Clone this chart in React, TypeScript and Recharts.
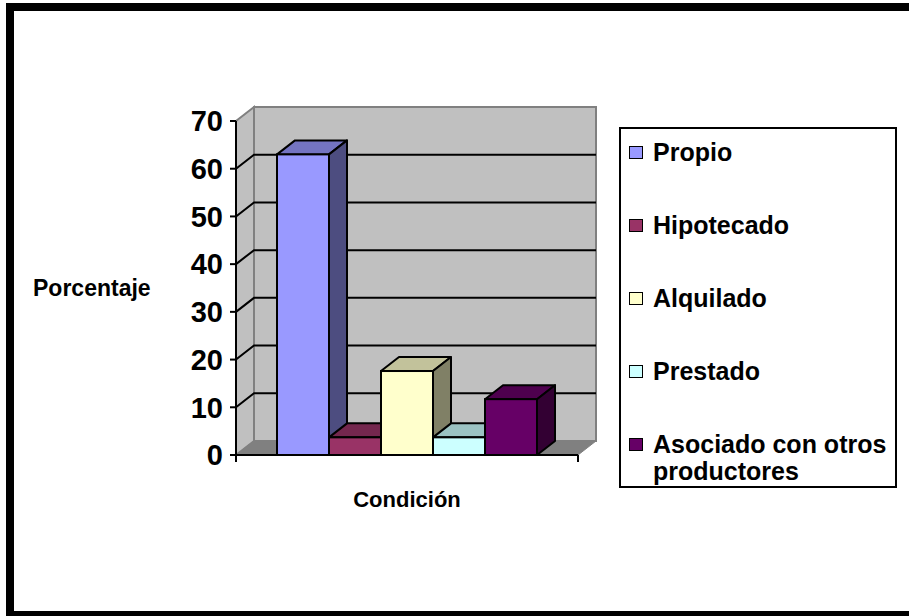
import React from 'react';
import { BarChart, Bar, XAxis, YAxis, Legend, ReferenceArea } from 'recharts';

// ---- data ----
const categories = ['Condición'];
const seriesNames = ['Propio', 'Hipotecado', 'Alquilado', 'Prestado', 'Asociado con otros productores'];
const seriesValues = [63, 3.7, 17.6, 3.7, 11.7];
const seriesColors = ['#9999FF', '#993366', '#FFFFCC', '#CCFFFF', '#660066'];
const yTicks = [0, 10, 20, 30, 40, 50, 60, 70];

const data = categories.map((c) => {
  const row: Record<string, string | number> = { name: c };
  seriesNames.forEach((_, i) => {
    row['s' + i] = seriesValues[i];
  });
  return row;
});

// ---- styling ----
const FONT = '"Liberation Sans", Arial, sans-serif';
const DX = 18;
const DY = 14;
const WALL = '#C0C0C0';
const EDGE = '#808080';
const FLOOR = '#808080';

const shade = (hex: string, f: number) => {
  const n = parseInt(hex.slice(1), 16);
  const r = Math.round(((n >> 16) & 255) * f);
  const g = Math.round(((n >> 8) & 255) * f);
  const b = Math.round((n & 255) * f);
  return `rgb(${r},${g},${b})`;
};

const make3DBar = (color: string) => (props: any) => {
  const { x, y, width, height } = props;
  if (width == null || height == null) return <g />;
  const top = shade(color, 0.76);
  const side = shade(color, 0.5);
  return (
    <g>
      <polygon
        points={`${x},${y} ${x + width},${y} ${x + width + DX},${y - DY} ${x + DX},${y - DY}`}
        fill={top}
        stroke="#000"
        strokeWidth={2}
        strokeLinejoin="round"
      />
      <polygon
        points={`${x + width},${y} ${x + width + DX},${y - DY} ${x + width + DX},${y + height - DY} ${x + width},${y + height}`}
        fill={side}
        stroke="#000"
        strokeWidth={2}
        strokeLinejoin="round"
      />
      <rect x={x} y={y} width={width} height={height} fill={color} stroke="#000" strokeWidth={2} />
    </g>
  );
};

const Walls = (props: any) => {
  const { x, y, width, height } = props;
  const b = y + height;
  return (
    <g>
      <polygon
        points={`${x},${y} ${x + DX},${y - DY} ${x + DX},${b - DY} ${x},${b}`}
        fill={WALL}
        stroke={EDGE}
        strokeWidth={2}
      />
      <rect x={x + DX} y={y - DY} width={width} height={height} fill={WALL} stroke={EDGE} strokeWidth={2} />
      <polygon
        points={`${x},${b} ${x + width},${b} ${x + width + DX},${b - DY} ${x + DX},${b - DY}`}
        fill={FLOOR}
        stroke={EDGE}
        strokeWidth={1}
      />
      <line x1={x} y1={b} x2={x} y2={b + 7} stroke="#000" strokeWidth={2} />
      <line x1={x + width} y1={b} x2={x + width} y2={b + 7} stroke="#000" strokeWidth={2} />
    </g>
  );
};

const GridBand = (props: any) => {
  const { x, y, width } = props;
  return (
    <path
      d={`M${x},${y} L${x + DX},${y - DY} L${x + width + DX},${y - DY}`}
      fill="none"
      stroke="#000"
      strokeWidth={2}
    />
  );
};

const renderLegend = (props: any) => {
  const payload = props.payload || [];
  return (
    <div
      style={{
        width: '100%',
        height: '100%',
        boxSizing: 'border-box',
        border: '2px solid #000',
        background: '#fff',
        paddingTop: 10,
        paddingLeft: 8,
        fontFamily: FONT,
        fontWeight: 'bold',
        fontSize: 25,
        color: '#000',
        textAlign: 'left',
      }}
    >
      {payload.map((e: any, i: number) => (
        <div key={i} style={{ display: 'flex', alignItems: 'flex-start', height: 73, lineHeight: '27px' }}>
          <span
            style={{
              display: 'inline-block',
              width: 12,
              height: 11,
              marginTop: 7,
              marginRight: 10,
              border: '1.5px solid #000',
              background: e.color,
              flex: 'none',
            }}
          />
          <span style={{ whiteSpace: 'normal', width: 245 }}>{e.value}</span>
        </div>
      ))}
    </div>
  );
};

export default function App() {
  const bands = yTicks.slice(1, -1);
  return (
    <div style={{ position: 'absolute', left: 0, top: 0, width: 909, height: 616, overflow: 'hidden', background: '#fff' }}>
      <div
        style={{
          position: 'absolute',
          left: 6,
          top: 3,
          width: 940,
          height: 616,
          border: '8px solid #000',
          boxSizing: 'border-box',
        }}
      />
      <div style={{ position: 'absolute', left: 0, top: 0 }}>
        <BarChart
          width={909}
          height={616}
          data={data}
          margin={{ top: 121, right: 331, left: 0, bottom: 101 }}
          barCategoryGap={41}
          barGap={0}
        >
          <XAxis
            dataKey="name"
            height={60}
            tick={false}
            tickLine={false}
            axisLine={{ stroke: '#000', strokeWidth: 2 }}
            label={{
              value: 'Condición',
              position: 'insideTop',
              offset: 36,
              fontSize: 22,
              fontWeight: 'bold',
              fontFamily: FONT,
              fill: '#000',
            }}
          />
          <YAxis
            width={236}
            domain={[0, 70]}
            ticks={yTicks}
            interval={0}
            tickSize={6}
            tickMargin={7}
            axisLine={{ stroke: '#000', strokeWidth: 2 }}
            tickLine={{ stroke: '#000', strokeWidth: 2 }}
            tick={{ fontSize: 29, fontWeight: 'bold', fontFamily: FONT, fill: '#000' }}
            label={{
              value: 'Porcentaje',
              position: 'insideLeft',
              offset: 33,
              fontSize: 23,
              fontWeight: 'bold',
              fontFamily: FONT,
              fill: '#000',
            }}
          />
          <ReferenceArea y1={yTicks[0]} y2={yTicks[yTicks.length - 1]} shape={Walls} ifOverflow="visible" />
          {bands.map((t) => (
            <ReferenceArea key={t} y1={t - 10} y2={t} shape={GridBand} ifOverflow="visible" />
          ))}
          {seriesNames.map((n, i) => (
            <Bar
              key={n}
              dataKey={'s' + i}
              name={n}
              fill={seriesColors[i]}
              shape={make3DBar(seriesColors[i])}
              isAnimationActive={false}
            />
          ))}
          <Legend
            layout="horizontal"
            verticalAlign="middle"
            align="center"
            itemSorter="dataKey"
            content={renderLegend}
            wrapperStyle={{ position: 'absolute', left: 619, top: 127, width: 278, height: 361 }}
          />
        </BarChart>
      </div>
    </div>
  );
}
